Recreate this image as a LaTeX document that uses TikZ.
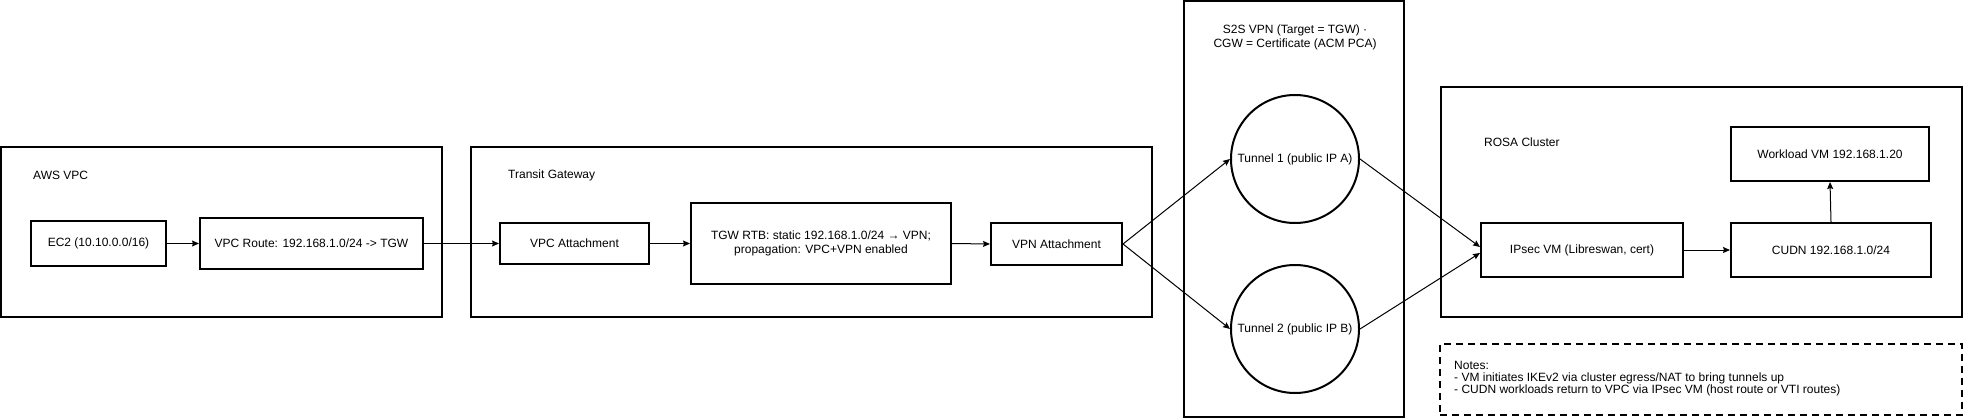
\documentclass[tikz,border=0pt]{standalone}
\usepackage{fontspec}
\setmainfont{Liberation Sans}
\usetikzlibrary{arrows.meta}
\tikzset{
  lbl/.style={font=\fontsize{12}{14}\selectfont, inner sep=0pt},
  box/.style={draw, line width=2pt, rectangle, inner sep=0pt, align=center, font=\fontsize{12}{14}\selectfont},
  cont/.style={draw, line width=2pt, rectangle, inner sep=0pt},
  tun/.style={draw, line width=2pt, circle, inner sep=0pt, minimum size=128pt, font=\fontsize{12}{14}\selectfont},
  arr/.style={line width=1pt, -{Stealth[length=7pt,width=6pt,inset=1pt]}},
  notebox/.style={draw, line width=2pt, rectangle, inner sep=0pt, dash pattern=on 7pt off 5pt}
}
\begin{document}
\begin{tikzpicture}[x=1pt,y=-1pt]
\useasboundingbox (0,0) rectangle (1963,420);
% containers
\node[cont, minimum width=441pt, minimum height=170pt] (aws) at (221.5,232) {};
\node[lbl, anchor=west] (awslbl) at (33,175) {AWS VPC};
\node[cont, minimum width=681pt, minimum height=170pt] (tg) at (811.5,232) {};
\node[lbl, anchor=west] (tglbl) at (508,175) {Transit Gateway};
\node[cont, minimum width=220pt, minimum height=416pt] (s2s) at (1294,209) {};
\node[lbl, align=center] (s2slbl) at (1295,37) {S2S VPN (Target = TGW) ·\\CGW = Certificate (ACM PCA)};
\node[cont, minimum width=521pt, minimum height=230pt] (rosa) at (1701.5,202) {};
\node[lbl, anchor=west] (rosalbl) at (1484,142) {ROSA Cluster};
% boxes
\node[box, minimum width=135pt, minimum height=45pt] (ec2) at (98.5,243.5) {EC2 (10.10.0.0/16)};
\node[box, minimum width=223pt, minimum height=51pt] (route) at (311.5,243.5) {VPC Route: 192.168.1.0/24 -> TGW};
\node[box, minimum width=149pt, minimum height=41pt] (vpcatt) at (574.5,243.5) {VPC Attachment};
\node[box, minimum width=260pt, minimum height=81pt] (rtb) at (821,243.5) {TGW RTB: static 192.168.1.0/24 → VPN;\\propagation: VPC+VPN enabled};
\node[box, minimum width=131pt, minimum height=42pt] (vpnatt) at (1056.5,244) {VPN Attachment};
\node[tun] (t1) at (1295,159) {Tunnel 1 (public IP A)};
\node[tun] (t2) at (1295,329) {Tunnel 2 (public IP B)};
\node[box, minimum width=202pt, minimum height=54pt] (ipsec) at (1582,250) {IPsec VM (Libreswan, cert)};
\node[box, minimum width=200pt, minimum height=54pt] (cudn) at (1831,250) {CUDN 192.168.1.0/24};
\node[box, minimum width=198pt, minimum height=54pt] (work) at (1830,154) {Workload VM 192.168.1.20};
% notes
\node[notebox, minimum width=522pt, minimum height=71pt] (notes) at (1701,379.5) {};
\node[anchor=west, align=left, inner sep=0pt, font=\fontsize{12}{12}\selectfont] (notestxt) at (1454,379) {Notes:\\- VM initiates IKEv2 via cluster egress/NAT to bring tunnels up\\- CUDN workloads return to VPC via IPsec VM (host route or VTI routes)};
% connectors
\draw[arr] (ec2) -- (route);
\draw[arr] (route) -- (vpcatt);
\draw[arr] (vpcatt) -- (rtb);
\draw[arr] (rtb.east) -- (vpnatt.west);
\draw[arr] (vpnatt.east) -- (t1.west);
\draw[arr] (vpnatt.east) -- (t2.west);
\draw[arr] (t1.east) -- ([yshift=3pt]ipsec.west);
\draw[arr] (t2.east) -- ([yshift=-3pt]ipsec.west);
\draw[arr] (ipsec) -- (cudn);
\draw[arr] (cudn.north) -- (work.south);
\end{tikzpicture}
\end{document}
